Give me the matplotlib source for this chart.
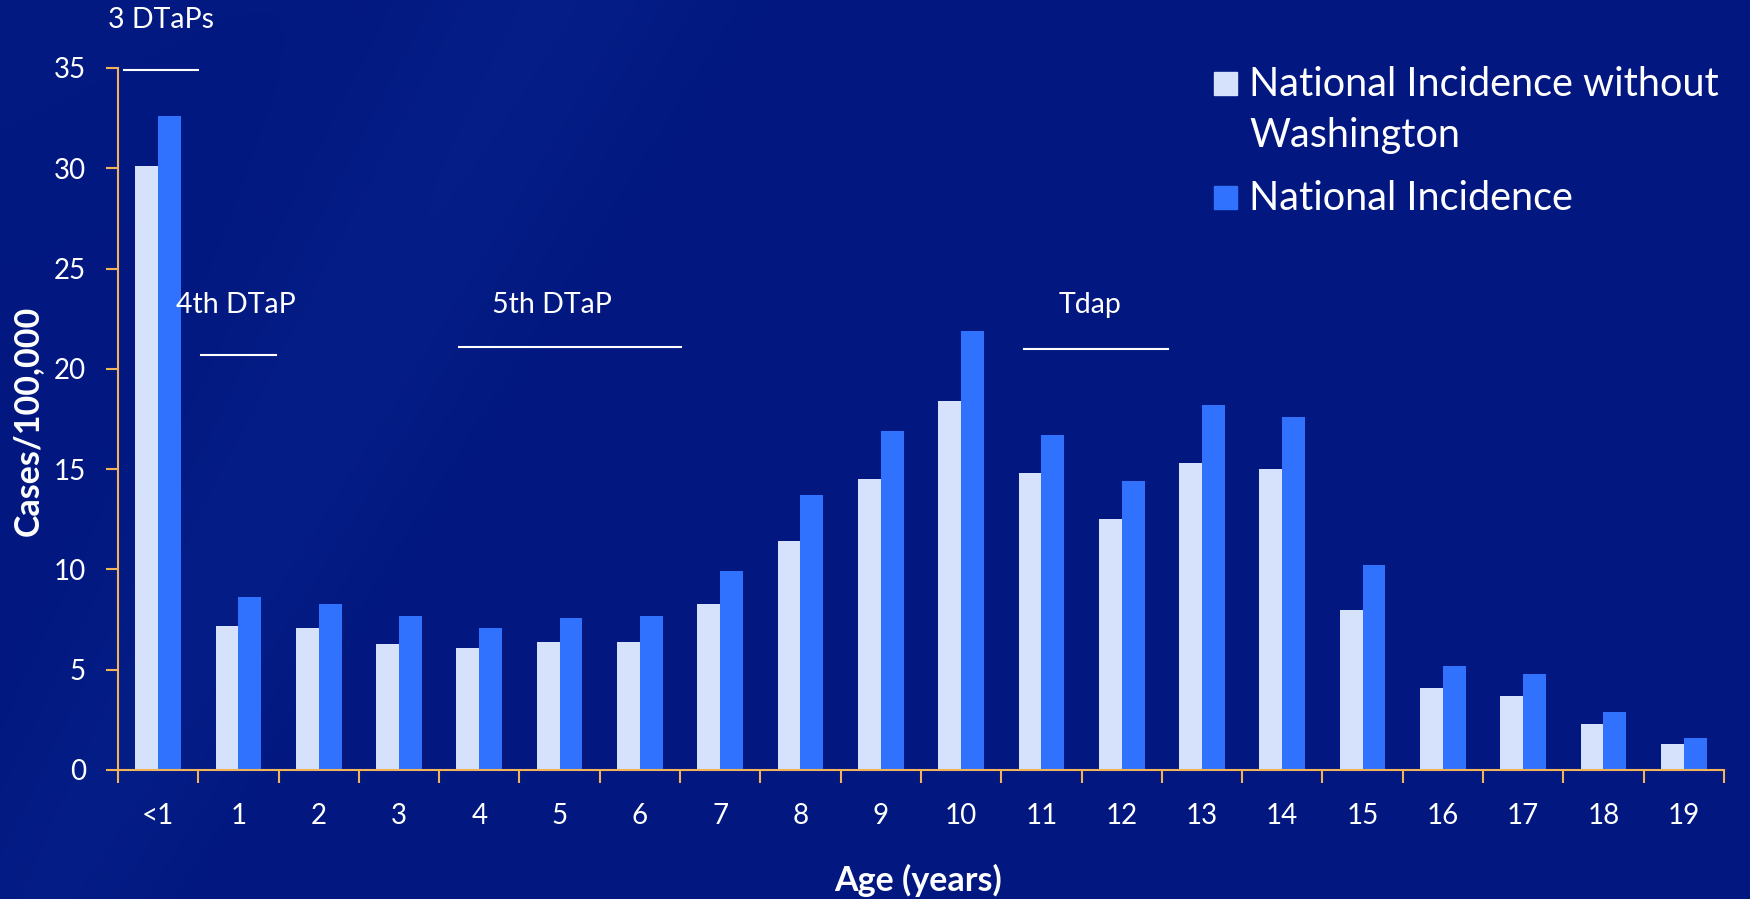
import numpy as np
import matplotlib
matplotlib.use('Agg')
import matplotlib.pyplot as plt
from matplotlib.patches import Rectangle
import matplotlib.ticker as ticker

ages = ['<1', '1', '2', '3', '4', '5', '6', '7', '8', '9',
        '10', '11', '12', '13', '14', '15', '16', '17', '18', '19']
without_wa = [30.1, 7.2, 7.1, 6.3, 6.1, 6.4, 6.4, 8.3, 11.4, 14.5,
              18.4, 14.8, 12.5, 15.3, 15.0, 8.0, 4.1, 3.7, 2.3, 1.3]
national = [32.6, 8.6, 8.3, 7.7, 7.1, 7.6, 7.7, 9.9, 13.7, 16.9,
            21.9, 16.7, 14.4, 18.2, 17.6, 10.2, 5.2, 4.8, 2.9, 1.6]

# vaccine annotations: label, text position, line start, line end, line y
vax_labels = ['3 DTaPs', '4th DTaP', '5th DTaP', 'Tdap']
vax_text_x = [0.03, 0.97, 4.9, 11.6]
vax_text_y = [37.4, 23.2, 23.2, 23.2]
vax_x0 = [-0.43, 0.53, 3.75, 10.78]
vax_x1 = [0.5, 1.47, 6.51, 12.58]
vax_y = [34.9, 20.7, 21.1, 21.0]

bg = '#031a85'
light = '#d6e2fc'
blue = '#3072fe'
axis_col = '#f2b45a'

plt.rcParams['font.family'] = ['Lato', 'DejaVu Sans']

fig = plt.figure(figsize=(17.5, 8.99), dpi=100)
fig.patch.set_facecolor(bg)

# subtle background gradient
bgax = fig.add_axes([0, 0, 1, 1], zorder=-10)
yy, xx = np.mgrid[0:1:200j, 0:1:400j]
band = np.exp(-((xx * 1.9 - (1 - yy) * 0.55 - 0.05) ** 2) / 0.02)
grad = 0.22 * band + 0.2 * (1 - xx) * (1 - yy) * 0.5
cmap = matplotlib.colors.LinearSegmentedColormap.from_list('bg', ['#02177f', '#0c2f9c'])
bgax.imshow(grad, cmap=cmap, aspect='auto', extent=[0, 1, 0, 1], vmin=0, vmax=1)
bgax.axis('off')

ax = fig.add_axes([0.0674, 0.1435, 0.9177, 0.7809])
ax.set_facecolor('none')

x = np.arange(len(ages))
w = 0.285
ax.bar(x - w / 2, without_wa, w, color=light, label='National Incidence without\nWashington')
ax.bar(x + w / 2, national, w, color=blue, label='National Incidence')

ax.set_xlim(-0.5, len(ages) - 0.5)
ax.set_ylim(0, 35)

for s in ['top', 'right']:
    ax.spines[s].set_visible(False)
for s in ['left', 'bottom']:
    ax.spines[s].set_color(axis_col)
    ax.spines[s].set_linewidth(1.5)

ax.yaxis.set_major_locator(ticker.MultipleLocator(5))
ax.tick_params(axis='y', colors=axis_col, labelcolor='white', length=9, width=1.5,
               labelsize=20, pad=14)

ax.set_xticks(x)
ax.set_xticklabels(ages)
ax.set_xticks(np.arange(-0.5, len(ages), 1), minor=True)
ax.tick_params(axis='x', which='major', length=0, labelcolor='white', labelsize=20, pad=24)
ax.tick_params(axis='x', which='minor', length=9, width=1.5, color=axis_col)

ax.set_ylabel('Cases/100,000', color='white', fontsize=24.5, fontweight='bold', va='center')
ax.yaxis.set_label_coords(-0.056, 0.497)
ax.set_xlabel('Age (years)', color='white', fontsize=24.5, fontweight='bold', va='center')
ax.xaxis.set_label_coords(0.498, -0.157)

for lab, tx, ty, x0, x1, ly in zip(vax_labels, vax_text_x, vax_text_y, vax_x0, vax_x1, vax_y):
    ax.text(tx, ty, lab, color='white', fontsize=20.5, ha='center', va='center', clip_on=False)
    ax.plot([x0, x1], [ly, ly], color='white', lw=1.5, clip_on=False)

# legend
fig.patches.append(Rectangle((1214 / 1750, 1 - 95 / 899), 23 / 1750, 23 / 899,
                             transform=fig.transFigure, color=light))
fig.patches.append(Rectangle((1214 / 1750, 1 - 209 / 899), 23 / 1750, 23 / 899,
                             transform=fig.transFigure, color=blue))
fig.text(1249 / 1750, 1 - 84 / 899, 'National Incidence without', color='white',
         fontsize=28.5, va='center', ha='left')
fig.text(1249 / 1750, 1 - 135 / 899, 'Washington', color='white',
         fontsize=28.5, va='center', ha='left')
fig.text(1249 / 1750, 1 - 198 / 899, 'National Incidence', color='white',
         fontsize=28.5, va='center', ha='left')

fig.savefig('out.png', dpi=100, facecolor=fig.get_facecolor())
